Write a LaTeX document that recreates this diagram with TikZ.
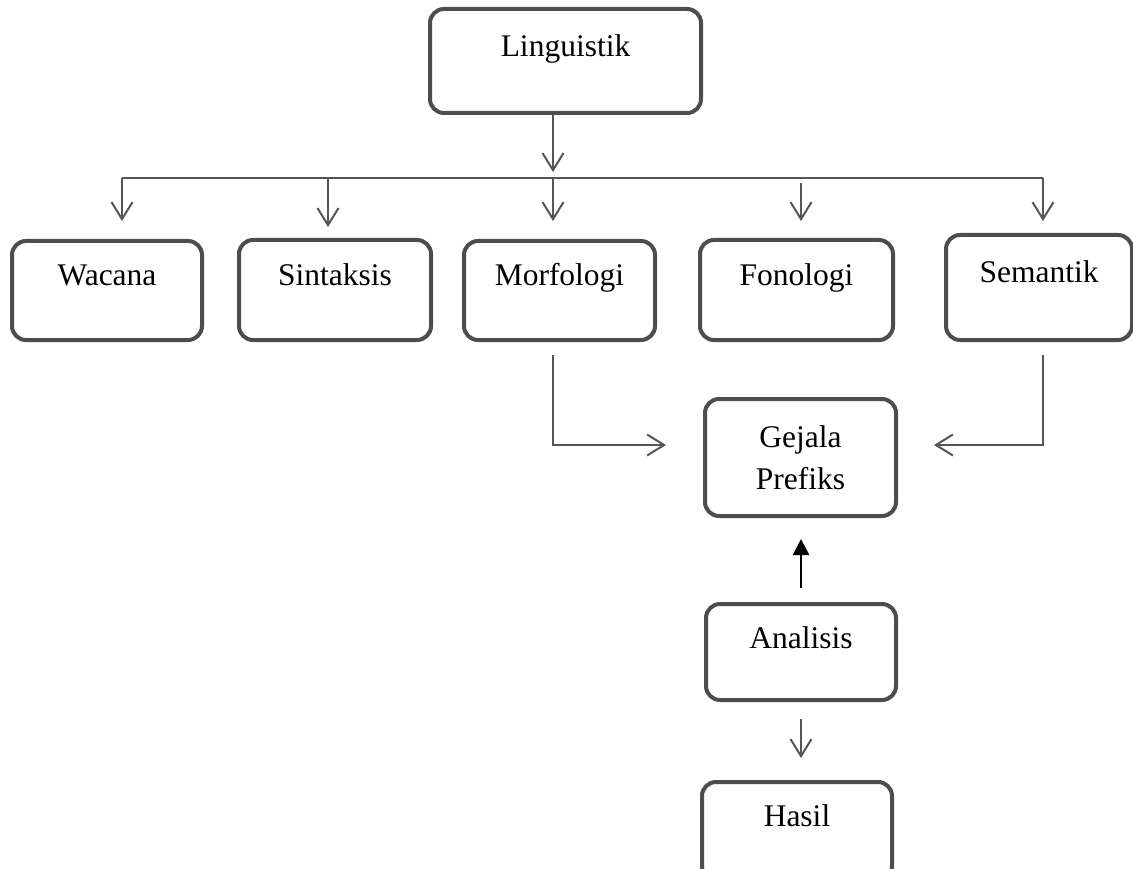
\documentclass[tikz,border=0pt]{standalone}
\usepackage{fontspec}
\setmainfont{Liberation Serif}
\usetikzlibrary{arrows.meta}
\definecolor{boxgray}{HTML}{4D4D4D}
\definecolor{linegray}{HTML}{555555}
\begin{document}
\begin{tikzpicture}[x=1pt,y=-1pt,
  box/.style={draw=boxgray, line width=4pt, rounded corners=14pt, inner sep=0pt, fill=white},
  lbl/.style={font=\fontsize{31.5}{42}\selectfont, anchor=base, inner sep=0pt},
  conn/.style={draw=linegray, line width=2pt},
  arr/.style={conn, -{Straight Barb[length=17pt,width=21pt]}},
  blackarr/.style={draw=black, line width=2.5pt, -{Triangle[length=16pt,width=16pt]}}]
\useasboundingbox (0,0) rectangle (1133,869);
\clip (0,0) rectangle (1133,869);

% boxes
\node[box, minimum width=271pt, minimum height=104pt] (ling) at (565.5,61) {};
\node[box, minimum width=190pt, minimum height=99pt]  (wac)  at (107,290.5) {};
\node[box, minimum width=192pt, minimum height=100pt] (sin)  at (335,290) {};
\node[box, minimum width=191pt, minimum height=99pt]  (mor)  at (559.5,290.5) {};
\node[box, minimum width=193pt, minimum height=100pt] (fon)  at (796.5,290) {};
\node[box, minimum width=186pt, minimum height=105pt] (sem)  at (1039,287.5) {};
\node[box, minimum width=191pt, minimum height=117pt] (gej)  at (800.5,457.5) {};
\node[box, minimum width=190pt, minimum height=96pt]  (ana)  at (801,652) {};
\node[box, minimum width=190pt, minimum height=98pt]  (has)  at (797,831) {};

% labels
\node[lbl] (lingT) at (ling.north |- 0,57)  {Linguistik};
\node[lbl] (wacT)  at (wac.north |- 0,285)  {Wacana};
\node[lbl] (sinT)  at (sin.north |- 0,285)  {Sintaksis};
\node[lbl] (morT)  at (mor.north |- 0,285)  {Morfologi};
\node[lbl] (fonT)  at (fon.north |- 0,285)  {Fonologi};
\node[lbl] (semT)  at (sem.north |- 0,283)  {Semantik};
\node[lbl, anchor=center, align=center] (gejT) at (gej.center) {Gejala\\Prefiks};
\node[lbl] (anaT)  at (ana.north |- 0,648)  {Analisis};
\node[lbl] (hasT)  at (has.north |- 0,826)  {Hasil};

% distribution bar
\coordinate (trunk) at (553,178);
\coordinate (busL) at (122,178);
\coordinate (busS) at (328,178);
\coordinate (busF) at (801,178);
\coordinate (busR) at (1043,178);
\draw[conn] (busL) -- (busR);
\draw[arr, shorten >=6pt] (ling.south -| trunk) -- (trunk);

\draw[arr, shorten >=18pt] (busL) -- (busL |- wac.north);
\draw[arr, shorten >=11pt] (busS) -- (busS |- sin.north);
\draw[arr, shorten >=18pt] (trunk) -- (trunk |- mor.north);
\draw[arr, shorten <=5pt, shorten >=17pt] (busF) -- (busF |- fon.north);
\draw[arr, shorten >=12pt] (busR) -- (busR |- sem.north);

% into Gejala Prefiks
\coordinate (mj) at (553,445);
\coordinate (sj) at (1043,445);
\draw[arr, shorten <=13pt, shorten >=37pt] (mor.south -| mj) |- (gej.west |- mj);
\draw[arr, shorten <=13pt, shorten >=36pt] (sem.south -| sj) |- (gej.east |- sj);

\draw[blackarr, shorten <=14pt, shorten >=21pt] (ana.north) -- (ana.north |- gej.south);
\draw[arr, shorten <=17pt, shorten >=22pt] (ana.south) -- (ana.south |- has.north);
\end{tikzpicture}
\end{document}
